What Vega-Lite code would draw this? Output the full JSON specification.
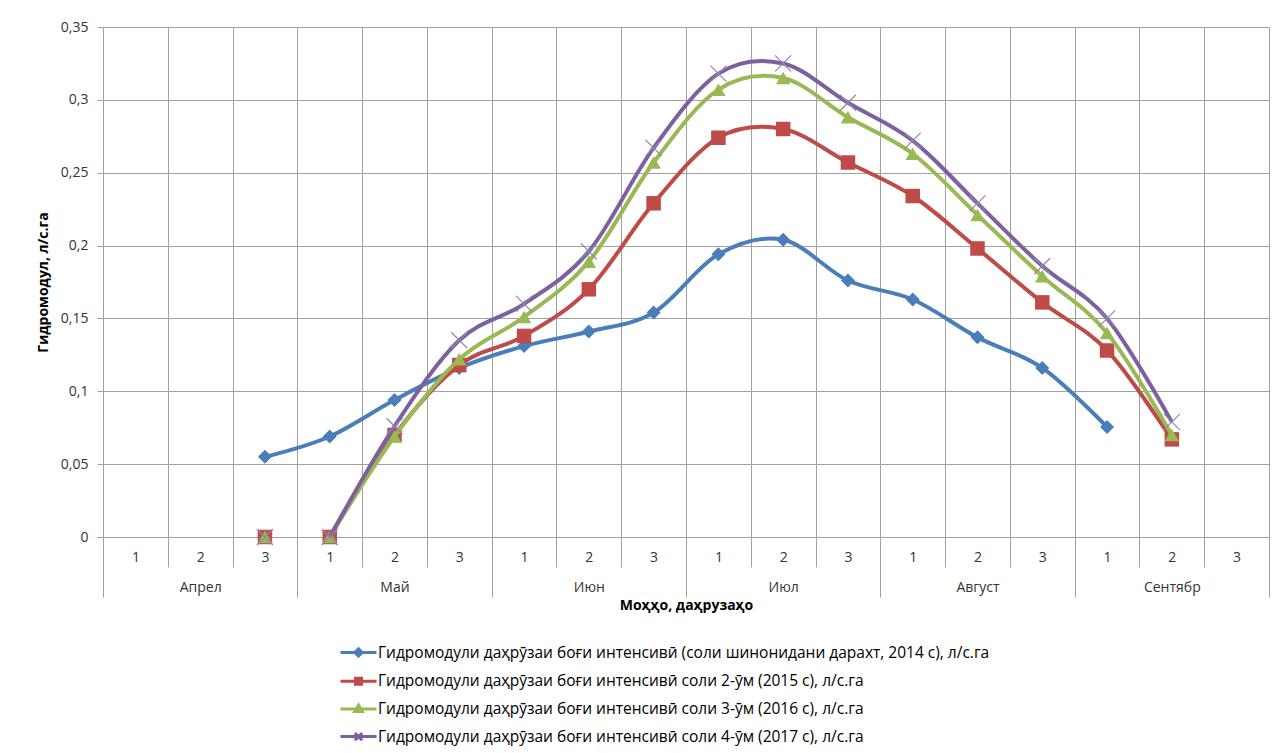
{
  "$schema": "https://vega.github.io/schema/vega-lite/v6.json",
  "width": 1166,
  "height": 510,
  "autosize": {"type": "none"},
  "padding": {"left": 103, "top": 27, "right": 10, "bottom": 216},
  "background": "white",
  "config": {
    "font": "Open Sans",
    "view": {"stroke": null},
    "axis": {"labelFont": "Open Sans", "titleFont": "Open Sans"},
    "legend": {"labelFont": "Open Sans"}
  },
  "data": {
    "values": [
      {"s": 1, "series": "Гидромодули даҳрӯзаи боғи интенсивӣ (соли шинонидани дарахт, 2014 с), л/с.га", "dek": "Апрел 3", "v": 0.055},
      {"s": 1, "series": "Гидромодули даҳрӯзаи боғи интенсивӣ (соли шинонидани дарахт, 2014 с), л/с.га", "dek": "Май 1", "v": 0.069},
      {"s": 1, "series": "Гидромодули даҳрӯзаи боғи интенсивӣ (соли шинонидани дарахт, 2014 с), л/с.га", "dek": "Май 2", "v": 0.094},
      {"s": 1, "series": "Гидромодули даҳрӯзаи боғи интенсивӣ (соли шинонидани дарахт, 2014 с), л/с.га", "dek": "Май 3", "v": 0.116},
      {"s": 1, "series": "Гидромодули даҳрӯзаи боғи интенсивӣ (соли шинонидани дарахт, 2014 с), л/с.га", "dek": "Июн 1", "v": 0.131},
      {"s": 1, "series": "Гидромодули даҳрӯзаи боғи интенсивӣ (соли шинонидани дарахт, 2014 с), л/с.га", "dek": "Июн 2", "v": 0.141},
      {"s": 1, "series": "Гидромодули даҳрӯзаи боғи интенсивӣ (соли шинонидани дарахт, 2014 с), л/с.га", "dek": "Июн 3", "v": 0.154},
      {"s": 1, "series": "Гидромодули даҳрӯзаи боғи интенсивӣ (соли шинонидани дарахт, 2014 с), л/с.га", "dek": "Июл 1", "v": 0.194},
      {"s": 1, "series": "Гидромодули даҳрӯзаи боғи интенсивӣ (соли шинонидани дарахт, 2014 с), л/с.га", "dek": "Июл 2", "v": 0.204},
      {"s": 1, "series": "Гидромодули даҳрӯзаи боғи интенсивӣ (соли шинонидани дарахт, 2014 с), л/с.га", "dek": "Июл 3", "v": 0.176},
      {"s": 1, "series": "Гидромодули даҳрӯзаи боғи интенсивӣ (соли шинонидани дарахт, 2014 с), л/с.га", "dek": "Август 1", "v": 0.163},
      {"s": 1, "series": "Гидромодули даҳрӯзаи боғи интенсивӣ (соли шинонидани дарахт, 2014 с), л/с.га", "dek": "Август 2", "v": 0.137},
      {"s": 1, "series": "Гидромодули даҳрӯзаи боғи интенсивӣ (соли шинонидани дарахт, 2014 с), л/с.га", "dek": "Август 3", "v": 0.116},
      {"s": 1, "series": "Гидромодули даҳрӯзаи боғи интенсивӣ (соли шинонидани дарахт, 2014 с), л/с.га", "dek": "Сентябр 1", "v": 0.0755},

      {"s": 2, "series": "Гидромодули даҳрӯзаи боғи интенсивӣ соли 2-ӯм (2015 с), л/с.га", "dek": "Апрел 3", "v": 0},
      {"s": 2, "series": "Гидромодули даҳрӯзаи боғи интенсивӣ соли 2-ӯм (2015 с), л/с.га", "dek": "Май 1", "v": 0},
      {"s": 2, "series": "Гидромодули даҳрӯзаи боғи интенсивӣ соли 2-ӯм (2015 с), л/с.га", "dek": "Май 2", "v": 0.070},
      {"s": 2, "series": "Гидромодули даҳрӯзаи боғи интенсивӣ соли 2-ӯм (2015 с), л/с.га", "dek": "Май 3", "v": 0.118},
      {"s": 2, "series": "Гидромодули даҳрӯзаи боғи интенсивӣ соли 2-ӯм (2015 с), л/с.га", "dek": "Июн 1", "v": 0.138},
      {"s": 2, "series": "Гидромодули даҳрӯзаи боғи интенсивӣ соли 2-ӯм (2015 с), л/с.га", "dek": "Июн 2", "v": 0.170},
      {"s": 2, "series": "Гидромодули даҳрӯзаи боғи интенсивӣ соли 2-ӯм (2015 с), л/с.га", "dek": "Июн 3", "v": 0.229},
      {"s": 2, "series": "Гидромодули даҳрӯзаи боғи интенсивӣ соли 2-ӯм (2015 с), л/с.га", "dek": "Июл 1", "v": 0.274},
      {"s": 2, "series": "Гидромодули даҳрӯзаи боғи интенсивӣ соли 2-ӯм (2015 с), л/с.га", "dek": "Июл 2", "v": 0.280},
      {"s": 2, "series": "Гидромодули даҳрӯзаи боғи интенсивӣ соли 2-ӯм (2015 с), л/с.га", "dek": "Июл 3", "v": 0.257},
      {"s": 2, "series": "Гидромодули даҳрӯзаи боғи интенсивӣ соли 2-ӯм (2015 с), л/с.га", "dek": "Август 1", "v": 0.234},
      {"s": 2, "series": "Гидромодули даҳрӯзаи боғи интенсивӣ соли 2-ӯм (2015 с), л/с.га", "dek": "Август 2", "v": 0.198},
      {"s": 2, "series": "Гидромодули даҳрӯзаи боғи интенсивӣ соли 2-ӯм (2015 с), л/с.га", "dek": "Август 3", "v": 0.161},
      {"s": 2, "series": "Гидромодули даҳрӯзаи боғи интенсивӣ соли 2-ӯм (2015 с), л/с.га", "dek": "Сентябр 1", "v": 0.128},
      {"s": 2, "series": "Гидромодули даҳрӯзаи боғи интенсивӣ соли 2-ӯм (2015 с), л/с.га", "dek": "Сентябр 2", "v": 0.067},

      {"s": 3, "series": "Гидромодули даҳрӯзаи боғи интенсивӣ соли 3-ӯм (2016 с), л/с.га", "dek": "Апрел 3", "v": 0},
      {"s": 3, "series": "Гидромодули даҳрӯзаи боғи интенсивӣ соли 3-ӯм (2016 с), л/с.га", "dek": "Май 1", "v": 0},
      {"s": 3, "series": "Гидромодули даҳрӯзаи боғи интенсивӣ соли 3-ӯм (2016 с), л/с.га", "dek": "Май 2", "v": 0.069},
      {"s": 3, "series": "Гидромодули даҳрӯзаи боғи интенсивӣ соли 3-ӯм (2016 с), л/с.га", "dek": "Май 3", "v": 0.122},
      {"s": 3, "series": "Гидромодули даҳрӯзаи боғи интенсивӣ соли 3-ӯм (2016 с), л/с.га", "dek": "Июн 1", "v": 0.151},
      {"s": 3, "series": "Гидромодули даҳрӯзаи боғи интенсивӣ соли 3-ӯм (2016 с), л/с.га", "dek": "Июн 2", "v": 0.189},
      {"s": 3, "series": "Гидромодули даҳрӯзаи боғи интенсивӣ соли 3-ӯм (2016 с), л/с.га", "dek": "Июн 3", "v": 0.257},
      {"s": 3, "series": "Гидромодули даҳрӯзаи боғи интенсивӣ соли 3-ӯм (2016 с), л/с.га", "dek": "Июл 1", "v": 0.307},
      {"s": 3, "series": "Гидромодули даҳрӯзаи боғи интенсивӣ соли 3-ӯм (2016 с), л/с.га", "dek": "Июл 2", "v": 0.315},
      {"s": 3, "series": "Гидромодули даҳрӯзаи боғи интенсивӣ соли 3-ӯм (2016 с), л/с.га", "dek": "Июл 3", "v": 0.288},
      {"s": 3, "series": "Гидромодули даҳрӯзаи боғи интенсивӣ соли 3-ӯм (2016 с), л/с.га", "dek": "Август 1", "v": 0.263},
      {"s": 3, "series": "Гидромодули даҳрӯзаи боғи интенсивӣ соли 3-ӯм (2016 с), л/с.га", "dek": "Август 2", "v": 0.221},
      {"s": 3, "series": "Гидромодули даҳрӯзаи боғи интенсивӣ соли 3-ӯм (2016 с), л/с.га", "dek": "Август 3", "v": 0.179},
      {"s": 3, "series": "Гидромодули даҳрӯзаи боғи интенсивӣ соли 3-ӯм (2016 с), л/с.га", "dek": "Сентябр 1", "v": 0.140},
      {"s": 3, "series": "Гидромодули даҳрӯзаи боғи интенсивӣ соли 3-ӯм (2016 с), л/с.га", "dek": "Сентябр 2", "v": 0.070},

      {"s": 4, "series": "Гидромодули даҳрӯзаи боғи интенсивӣ соли 4-ӯм (2017 с), л/с.га", "dek": "Апрел 3", "v": 0},
      {"s": 4, "series": "Гидромодули даҳрӯзаи боғи интенсивӣ соли 4-ӯм (2017 с), л/с.га", "dek": "Май 1", "v": 0},
      {"s": 4, "series": "Гидромодули даҳрӯзаи боғи интенсивӣ соли 4-ӯм (2017 с), л/с.га", "dek": "Май 2", "v": 0.076},
      {"s": 4, "series": "Гидромодули даҳрӯзаи боғи интенсивӣ соли 4-ӯм (2017 с), л/с.га", "dek": "Май 3", "v": 0.135},
      {"s": 4, "series": "Гидромодули даҳрӯзаи боғи интенсивӣ соли 4-ӯм (2017 с), л/с.га", "dek": "Июн 1", "v": 0.160},
      {"s": 4, "series": "Гидромодули даҳрӯзаи боғи интенсивӣ соли 4-ӯм (2017 с), л/с.га", "dek": "Июн 2", "v": 0.196},
      {"s": 4, "series": "Гидромодули даҳрӯзаи боғи интенсивӣ соли 4-ӯм (2017 с), л/с.га", "dek": "Июн 3", "v": 0.267},
      {"s": 4, "series": "Гидромодули даҳрӯзаи боғи интенсивӣ соли 4-ӯм (2017 с), л/с.га", "dek": "Июл 1", "v": 0.318},
      {"s": 4, "series": "Гидромодули даҳрӯзаи боғи интенсивӣ соли 4-ӯм (2017 с), л/с.га", "dek": "Июл 2", "v": 0.325},
      {"s": 4, "series": "Гидромодули даҳрӯзаи боғи интенсивӣ соли 4-ӯм (2017 с), л/с.га", "dek": "Июл 3", "v": 0.298},
      {"s": 4, "series": "Гидромодули даҳрӯзаи боғи интенсивӣ соли 4-ӯм (2017 с), л/с.га", "dek": "Август 1", "v": 0.272},
      {"s": 4, "series": "Гидромодули даҳрӯзаи боғи интенсивӣ соли 4-ӯм (2017 с), л/с.га", "dek": "Август 2", "v": 0.229},
      {"s": 4, "series": "Гидромодули даҳрӯзаи боғи интенсивӣ соли 4-ӯм (2017 с), л/с.га", "dek": "Август 3", "v": 0.186},
      {"s": 4, "series": "Гидромодули даҳрӯзаи боғи интенсивӣ соли 4-ӯм (2017 с), л/с.га", "dek": "Сентябр 1", "v": 0.150},
      {"s": 4, "series": "Гидромодули даҳрӯзаи боғи интенсивӣ соли 4-ӯм (2017 с), л/с.га", "dek": "Сентябр 2", "v": 0.079}
    ]
  },
  "resolve": {"axis": {"x": "independent"}},
  "encoding": {
    "x": {
      "field": "dek",
      "type": "ordinal",
      "scale": {
        "type": "band",
        "domain": ["Апрел 1", "Апрел 2", "Апрел 3", "Май 1", "Май 2", "Май 3", "Июн 1", "Июн 2", "Июн 3", "Июл 1", "Июл 2", "Июл 3", "Август 1", "Август 2", "Август 3", "Сентябр 1", "Сентябр 2", "Сентябр 3"],
        "paddingInner": 0,
        "paddingOuter": 0
      },
      "axis": null
    },
    "y": {
      "field": "v",
      "type": "quantitative",
      "scale": {"domain": [0, 0.35], "nice": false},
      "axis": {
        "values": [0, 0.05, 0.1, 0.15, 0.2, 0.25, 0.3, 0.35],
        "labelExpr": "replace(format(datum.value, '.2~f'), '.', ',')",
        "grid": true,
        "gridColor": "#a0a0a0",
        "gridWidth": 1,
        "domain": true,
        "domainColor": "#a0a0a0",
        "ticks": true,
        "tickSize": 6,
        "tickColor": "#a0a0a0",
        "labelPadding": 9,
        "labelFontSize": 14,
        "labelColor": "#333333",
        "title": "Гидромодул, л/с.га",
        "titleFontSize": 14,
        "titleFontWeight": "bold",
        "titleColor": "#000000",
        "titlePadding": 10
      }
    },
    "color": {
      "field": "series",
      "type": "nominal",
      "scale": {
        "domain": [
          "Гидромодули даҳрӯзаи боғи интенсивӣ (соли шинонидани дарахт, 2014 с), л/с.га",
          "Гидромодули даҳрӯзаи боғи интенсивӣ соли 2-ӯм (2015 с), л/с.га",
          "Гидромодули даҳрӯзаи боғи интенсивӣ соли 3-ӯм (2016 с), л/с.га",
          "Гидромодули даҳрӯзаи боғи интенсивӣ соли 4-ӯм (2017 с), л/с.га"
        ],
        "range": ["#4a7ebb", "#be4b48", "#98b954", "#7d60a0"]
      },
      "legend": {
        "orient": "none",
        "legendX": 245,
        "legendY": 615,
        "direction": "vertical",
        "title": null,
        "padding": 0,
        "labelFontSize": 15.5,
        "labelColor": "#000000",
        "labelLimit": 900,
        "labelOffset": 9,
        "symbolSize": 324,
        "rowPadding": 7.7,
        "encode": {
          "symbols": {
            "update": {
              "shape": {"signal": "indexof(domain('color'), datum.value) == 0 ? 'M-2,0H2M0,-0.4L0.4,0L0,0.4L-0.4,0Z' : indexof(domain('color'), datum.value) == 1 ? 'M-2,0H2M-0.33,-0.33H0.33V0.33H-0.33Z' : indexof(domain('color'), datum.value) == 2 ? 'M-2,0H2M0,-0.42L0.42,0.3H-0.42Z' : 'M-2,0H2M-0.4,-0.4L0.4,0.4M-0.4,0.4L0.4,-0.4'"},
              "fill": {"signal": "scale('color', datum.value)"},
              "stroke": {"signal": "scale('color', datum.value)"},
              "strokeWidth": {"value": 3},
              "opacity": {"value": 1},
              "fillOpacity": {"value": 1},
              "strokeOpacity": {"value": 1}
            }
          }
        }
      }
    }
  },
  "layer": [
    {
      "transform": [{"filter": "datum.s == 1"}],
      "mark": {"type": "line", "interpolate": "cardinal", "strokeWidth": 4, "clip": true},
      "encoding": {
        "x": {
          "field": "dek",
          "type": "ordinal",
          "axis": {
            "orient": "bottom",
            "tickBand": "extent",
            "tickSize": 30,
            "tickColor": "#a0a0a0",
            "tickWidth": 1,
            "grid": true,
            "gridColor": "#a0a0a0",
            "gridWidth": 1,
            "domain": true,
            "domainColor": "#a0a0a0",
            "labelExpr": "[split(datum.value, ' ')[1], split(datum.value, ' ')[1] == '2' ? split(datum.value, ' ')[0] : '']",
            "labelAngle": 0,
            "labelFontSize": 14,
            "labelColor": "#333333",
            "labelLineHeight": 30,
            "labelBaseline": "top",
            "labelPadding": -17,
            "labelOverlap": false,
            "labelBound": false,
            "labelFlush": false,
            "title": null
          }
        }
      }
    },
    {
      "transform": [{"filter": "datum.s == 1"}],
      "mark": {"type": "point", "shape": "diamond", "filled": true, "size": 196, "opacity": 1},
      "encoding": {
        "x": {
          "field": "dek",
          "type": "ordinal",
          "axis": {
            "orient": "bottom",
            "tickBand": "extent",
            "tickSize": 60,
            "tickColor": "#a0a0a0",
            "tickWidth": 1,
            "tickOpacity": {
              "condition": {"test": "datum.index < 0 || split(datum.value, ' ')[1] == '3'", "value": 1},
              "value": 0
            },
            "labels": false,
            "grid": false,
            "domain": false,
            "title": "Моҳҳо, даҳрузаҳо",
            "titleFontSize": 14,
            "titleFontWeight": "bold",
            "titleColor": "#000000",
            "titlePadding": 1
          }
        }
      }
    },
    {
      "transform": [{"filter": "datum.s == 2 && datum.dek != 'Апрел 3'"}],
      "mark": {"type": "line", "interpolate": "cardinal", "strokeWidth": 4, "clip": true}
    },
    {
      "transform": [{"filter": "datum.s == 2"}],
      "mark": {"type": "point", "shape": "square", "filled": true, "size": 210, "opacity": 1}
    },
    {
      "transform": [{"filter": "datum.s == 3 && datum.dek != 'Апрел 3'"}],
      "mark": {"type": "line", "interpolate": "cardinal", "strokeWidth": 4, "clip": true}
    },
    {
      "transform": [{"filter": "datum.s == 3"}],
      "mark": {"type": "point", "shape": "triangle-up", "filled": true, "size": 210, "opacity": 1}
    },
    {
      "transform": [{"filter": "datum.s == 4 && datum.dek != 'Апрел 3'"}],
      "mark": {"type": "line", "interpolate": "cardinal", "strokeWidth": 4, "clip": true}
    },
    {
      "transform": [{"filter": "datum.s == 4"}],
      "mark": {"type": "point", "shape": "M-1,-1L1,1M-1,1L1,-1", "filled": false, "size": 256, "strokeWidth": 1.2, "opacity": 1},
      "encoding": {"color": {"value": "#9185b0"}}
    }
  ]
}
